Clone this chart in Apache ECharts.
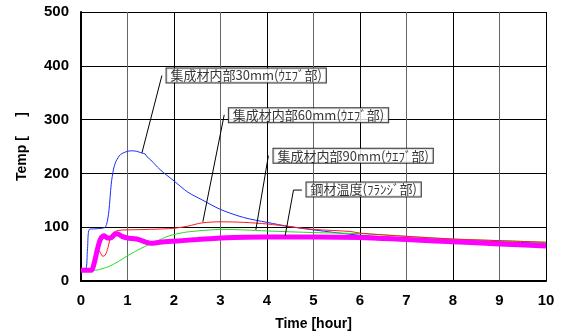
<!DOCTYPE html>
<html><head><meta charset="utf-8">
<script src="https://cdn.jsdelivr.net/npm/echarts@6/dist/echarts.min.js"></script>
<style>html,body{margin:0;padding:0;background:#fff}#c{width:563px;height:336px}</style>
</head><body><div id="c"></div>
<script>
// Data (time in hours, temperature)
const blueT = [0,0.1,0.14,0.18,0.3,0.5,0.55,0.6,0.65,0.7,0.75,0.85,1.0,1.1,1.2,1.3,1.38,1.42,1.5,1.7,2.0,2.3,2.6,3.0,3.5,4.0,4.5,5.0,6.0,7,8,9,10];
const blueV = [20,21,60,96,97,99,105,130,180,208,222,235,241,242,241,238,236,231,225,207,186,165,151,133,118,109,101,95,85,80,76,73,70];
const redT = [0,0.25,0.32,0.38,0.42,0.47,0.52,0.58,0.63,0.68,0.8,1.0,1.5,2.0,2.3,2.6,3.0,3.5,4,4.5,5,5.8,6,7,8,9,10];
const redV = [20,21,35,58,52,46,48,62,80,89,94,95,96,98,102,108,110,109,106,101,96,92,89,83,78,75,72];
const greenT = [0,0.3,0.5,0.6,0.8,1.0,1.3,1.6,1.9,2.2,2.5,2.8,3.0,3.5,4,5,6,7,8,9,10];
const greenV = [20,20,24,27,36,47,61,73,84,90,93,95,96,95,93,90,88,83,78,75,72];
const magT = [0,0.22,0.28,0.35,0.42,0.5,0.57,0.63,0.72,0.78,0.88,1.0,1.2,1.4,1.5,1.7,2,2.5,3,4,5,6,7,8,9,10];
const magV = [20,20,32,58,78,84,80,80,86,88,83,80,78,72,70,72,74,77,80,82,82,81,77,73,69,65];

const labelTexts = ['集成材内部30mm(ｳｴﾌﾞ部)','集成材内部60mm(ｳｴﾌﾞ部)','集成材内部90mm(ｳｴﾌﾞ部)','鋼材温度(ﾌﾗﾝｼﾞ部)'];
const labelT = [1.84,3.18,4.14,4.85];
const labelV = [382,308,233,170];
// leader lines (data coords)
const leader1 = [[1.74,382],[1.31,238]];
const leader2 = [[3.08,309],[2.62,110]];
const leader3 = [[4.03,233],[3.76,95]];
const leader4 = [[4.75,169],[4.57,169],[4.39,84]];

const xTicks = [0,1,2,3,4,5,6,7,8,9,10];
const yTicks = [0,100,200,300,400,500];

const zip = (t,v)=>t.map((x,i)=>[x,v[i]]);
const font = 'Liberation Sans, Arial, sans-serif';

const chart = echarts.init(document.getElementById('c'));
const lineS = (data,color,w)=>({type:'line',data,showSymbol:false,symbol:'none',smooth:0.3,
  lineStyle:{color,width:w},silent:true,z:2});
const leaderS = (data)=>({type:'line',data,showSymbol:false,symbol:'none',
  lineStyle:{color:'#000',width:1},silent:true,z:5});

chart.setOption({
  animation:false,
  backgroundColor:'#fff',
  grid:{left:81,right:17,top:12,bottom:55},
  xAxis:{type:'value',min:xTicks[0],max:xTicks[xTicks.length-1],interval:1,
    name:'Time [hour]',nameLocation:'middle',nameGap:36,
    nameTextStyle:{fontFamily:font,fontWeight:'bold',fontSize:14,color:'#000'},
    axisLine:{show:true,lineStyle:{color:'#000',width:2}},axisTick:{show:false},
    axisLabel:{fontFamily:font,fontWeight:'bold',fontSize:15,color:'#000',margin:12},
    splitLine:{show:true,lineStyle:{color:['#000','#666'],width:1}}},
  yAxis:{type:'value',min:yTicks[0],max:yTicks[yTicks.length-1],interval:100,
    name:'Temp [     ]',nameLocation:'middle',nameGap:52,
    nameTextStyle:{fontFamily:font,fontWeight:'bold',fontSize:14,color:'#000'},
    axisLine:{show:true,lineStyle:{color:'#000',width:2}},axisTick:{show:false},
    axisLabel:{fontFamily:font,fontWeight:'bold',fontSize:15,color:'#000',margin:12},
    splitLine:{show:true,lineStyle:{color:'#000',width:1}}},
  series:[
    lineS(zip(blueT,blueV),'#1a2cff',1),
    lineS(zip(greenT,greenV),'#22e022',1),
    lineS(zip(redT,redV),'#ff1a1a',1),
    lineS(zip(magT,magV),'#ff00ff',5),
    leaderS(leader1),leaderS(leader2),leaderS(leader3),leaderS(leader4),
    {type:'scatter',symbolSize:0,silent:true,z:10,
      data:labelT.map((t,i)=>({value:[t,labelV[i]],label:{formatter:labelTexts[i]}})),
      label:{show:true,position:'right',distance:0,
        fontFamily:'Noto Sans CJK JP, sans-serif',fontSize:13,color:'#000',
        backgroundColor:'#fff',borderColor:'#000',borderWidth:1,padding:[1,4,0,4]}}
  ]
});
</script></body></html>
